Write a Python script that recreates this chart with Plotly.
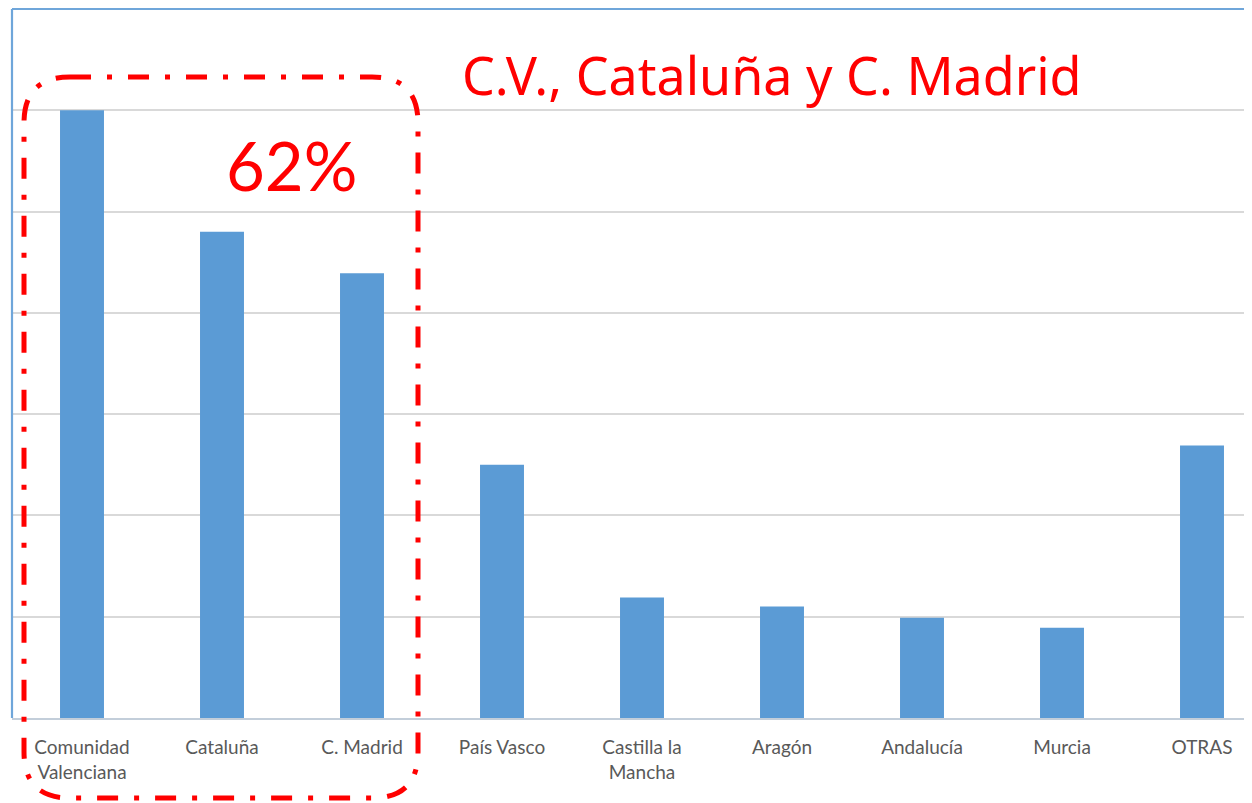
import plotly.graph_objects as go

categories = ["Comunidad<br>Valenciana", "Cataluña", "C. Madrid", "País Vasco",
              "Castilla la<br>Mancha", "Aragón", "Andalucía", "Murcia", "OTRAS"]
values = [6.0, 4.80, 4.39, 2.50, 1.19, 1.10, 0.99, 0.89, 2.69]

title_text = "C.V., Cataluña y C. Madrid"
share_text = "62%"

# page has an 8px body margin; keep the figure inside the window
OFF = 8
W, H = 1252 - OFF, 803 - OFF
L, R, T, B = 12 - OFF, 0, 9 - OFF, 803 - 718
PW, PH = W - L - R, H - T - B

def px(x):
    return (x - 12) / PW

def py(y):
    return (718 - y) / PH

fig = go.Figure()
fig.add_trace(go.Bar(x=list(range(len(categories))), y=values,
                     marker=dict(color="#5B9BD5", line=dict(width=0)),
                     width=0.314))

# rounded dash-dot rectangle
x0, x1, y0, y1, r = 24, 418, 77, 798, 46
path = (f"M {px(x0+r)},{py(y0)} L {px(x1-r)},{py(y0)} "
        f"Q {px(x1)},{py(y0)} {px(x1)},{py(y0+r)} "
        f"L {px(x1)},{py(y1-r)} Q {px(x1)},{py(y1)} {px(x1-r)},{py(y1)} "
        f"L {px(x0+r)},{py(y1)} Q {px(x0)},{py(y1)} {px(x0)},{py(y1-r)} "
        f"L {px(x0)},{py(y0+r)} Q {px(x0)},{py(y0)} {px(x0+r)},{py(y0)} Z")

shapes = [
    dict(type="line", xref="paper", yref="paper", x0=0, x1=1.02, y0=1, y1=1,
         line=dict(color="#6FA6DA", width=2.2), layer="above"),
    dict(type="line", xref="paper", yref="paper", x0=0, x1=0, y0=0, y1=1,
         line=dict(color="#6FA6DA", width=2.2), layer="above"),
    dict(type="path", xref="paper", yref="paper", path=path,
         line=dict(color="#FF0000", width=5, dash="21px,16px,5px,16px"),
         layer="above"),
]

fig.update_layout(
    width=W, height=H,
    margin=dict(l=L, r=R, t=T, b=B, autoexpand=False),
    paper_bgcolor="white", plot_bgcolor="white",
    showlegend=False,
    shapes=shapes,
    xaxis=dict(tickmode="array", tickvals=list(range(len(categories))),
               ticktext=categories, range=[-0.5, -0.5 + PW / 140],
               showgrid=False, zeroline=False, showline=True,
               linecolor="#C3CEDA", linewidth=2,
               ticks="outside", ticklen=11, tickcolor="rgba(0,0,0,0)",
               tickfont=dict(family="Lato", size=19, color="#595959"),
               automargin=False, fixedrange=True),
    yaxis=dict(range=[0, 7], dtick=1, showticklabels=False, showgrid=True,
               gridcolor="#D9D9D9", gridwidth=1.5, zeroline=False,
               showline=False, automargin=False, fixedrange=True),
    annotations=[
        dict(text=title_text, xref="paper", yref="paper", x=px(772), y=py(75),
             xanchor="center", yanchor="middle", showarrow=False,
             font=dict(family="Noto Sans", size=52, color="#FF0000")),
        dict(text=share_text, xref="paper", yref="paper", x=px(291), y=py(165),
             xanchor="center", yanchor="middle", showarrow=False,
             font=dict(family="Lato", size=67, color="#FF0000")),
    ],
)

fig.write_html("out.html")
